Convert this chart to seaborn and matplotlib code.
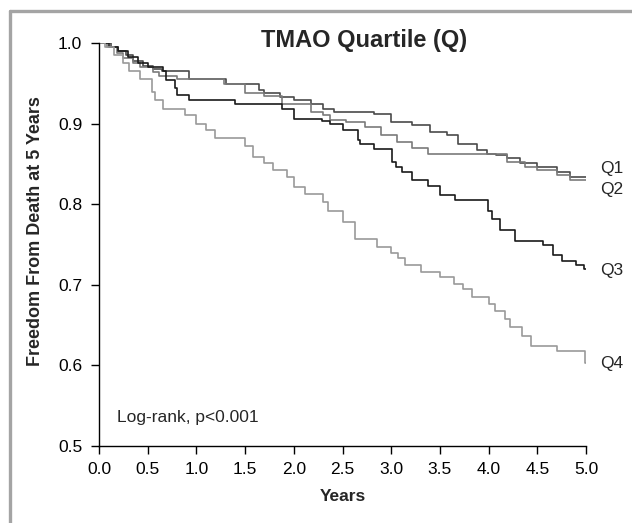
import pandas as pd
import seaborn as sns
import matplotlib.pyplot as plt
from matplotlib.lines import Line2D

# Kaplan-Meier steps (years, survival after the step)
q1_t = [0.0, 0.12, 0.2, 0.28, 0.35, 0.45, 0.55, 0.65, 0.92, 1.30, 1.64, 1.69, 1.86, 2.00, 2.18, 2.30,
        2.41, 2.82, 3.00, 3.21, 3.40, 3.57, 3.69, 3.88, 3.98, 4.08, 4.19, 4.32, 4.50, 4.70, 4.84, 5.0]
q1_s = [1.0, 0.996, 0.99, 0.985, 0.978, 0.972, 0.968, 0.965, 0.956, 0.949, 0.942, 0.938, 0.933, 0.929, 0.925, 0.919,
        0.915, 0.912, 0.902, 0.898, 0.890, 0.886, 0.875, 0.867, 0.863, 0.861, 0.857, 0.851, 0.846, 0.840, 0.834, 0.834]

q2_t = [0.0, 0.08, 0.18, 0.25, 0.35, 0.42, 0.55, 0.62, 0.80, 1.28, 1.50, 1.69, 1.88, 2.18, 2.30, 2.37,
        2.54, 2.73, 2.90, 3.06, 3.21, 3.38, 4.19, 4.37, 4.50, 4.70, 4.84, 5.0]
q2_s = [1.0, 0.995, 0.988, 0.982, 0.975, 0.970, 0.964, 0.960, 0.956, 0.949, 0.938, 0.934, 0.925, 0.915, 0.911, 0.905,
        0.902, 0.896, 0.886, 0.878, 0.870, 0.863, 0.853, 0.846, 0.842, 0.836, 0.830, 0.830]

q3_t = [0.0, 0.1, 0.2, 0.3, 0.4, 0.5, 0.66, 0.69, 0.78, 0.80, 0.92, 1.40, 1.88, 2.00, 2.29, 2.37, 2.51,
        2.66, 2.68, 2.82, 3.01, 3.05, 3.11, 3.21, 3.38, 3.50, 3.66, 3.99, 4.03, 4.12, 4.27, 4.56, 4.66,
        4.75, 4.90, 4.98, 5.0]
q3_s = [1.0, 0.995, 0.99, 0.983, 0.976, 0.970, 0.965, 0.954, 0.944, 0.936, 0.930, 0.925, 0.919, 0.906, 0.904, 0.900, 0.892,
        0.880, 0.875, 0.869, 0.853, 0.846, 0.840, 0.830, 0.823, 0.811, 0.805, 0.792, 0.782, 0.768, 0.755, 0.749, 0.737,
        0.730, 0.724, 0.720, 0.720]

q4_t = [0.0, 0.06, 0.15, 0.25, 0.31, 0.42, 0.54, 0.57, 0.66, 0.88, 1.00, 1.10, 1.19, 1.50, 1.58, 1.69,
        1.79, 1.93, 2.00, 2.11, 2.30, 2.35, 2.51, 2.63, 2.85, 3.00, 3.07, 3.14, 3.31, 3.50, 3.64, 3.74,
        3.83, 4.00, 4.07, 4.17, 4.22, 4.34, 4.44, 4.70, 4.99, 5.0]
q4_s = [1.0, 0.995, 0.985, 0.975, 0.965, 0.956, 0.940, 0.930, 0.919, 0.911, 0.900, 0.892, 0.882, 0.872, 0.859, 0.851,
        0.842, 0.834, 0.822, 0.813, 0.803, 0.792, 0.778, 0.757, 0.747, 0.740, 0.733, 0.724, 0.716, 0.710, 0.701, 0.695,
        0.685, 0.676, 0.668, 0.657, 0.647, 0.637, 0.624, 0.618, 0.603, 0.603]

groups = ['Q1', 'Q2', 'Q3', 'Q4']
colors = {'Q1': '#4a4a4a', 'Q2': '#7a7a7a', 'Q3': '#1a1a1a', 'Q4': '#9a9a9a'}

df = pd.concat([
    pd.DataFrame({'years': t, 'surv': s, 'group': g})
    for g, t, s in zip(groups, [q1_t, q2_t, q3_t, q4_t], [q1_s, q2_s, q3_s, q4_s])
])

sns.set_style('ticks')
plt.rcParams['font.family'] = ['Liberation Sans', 'DejaVu Sans']

fig = plt.figure(figsize=(6.32, 5.23), dpi=100)
ax = fig.add_axes([99 / 632, 1 - 445.8 / 523, 487 / 632, (445.8 - 43.3) / 523])

sns.lineplot(data=df, x='years', y='surv', hue='group', palette=colors, estimator=None,
             drawstyle='steps-post', linewidth=1.2, legend=False, ax=ax)

ax.set_xlim(0, 5.0)
ax.set_ylim(0.5, 1.0)
ax.set_xticks([0, 0.5, 1, 1.5, 2, 2.5, 3, 3.5, 4, 4.5, 5])
ax.set_xticklabels(['%.1f' % v for v in ax.get_xticks()])
ax.set_yticks([0.5, 0.6, 0.7, 0.8, 0.9, 1.0])
ax.set_yticklabels(['%.1f' % v for v in ax.get_yticks()])
ax.tick_params(labelsize=12.5, length=6, width=1, colors='black', pad=6)
ax.set_xlabel('Years', fontsize=12.5, fontweight='bold', labelpad=8)
ax.set_ylabel('')
for side in ['top', 'right']:
    ax.spines[side].set_visible(False)
for side in ['left', 'bottom']:
    ax.spines[side].set_color('black')
    ax.spines[side].set_linewidth(1)

fig.text(36 / 632, 1 - 231 / 523, 'Freedom From Death at 5 Years', rotation=90,
         ha='center', va='center', fontsize=13, fontweight='bold')
fig.text(364 / 632, 1 - 41 / 523, 'TMAO Quartile (Q)', ha='center', va='center',
         fontsize=17, fontweight='bold')

ax.text(0.18, 0.535, 'Log-rank, p<0.001', fontsize=12.5, va='center')

label_y = {'Q1': 0.845, 'Q2': 0.818, 'Q3': 0.718, 'Q4': 0.602}
for g in groups:
    ax.text(5.14, label_y[g], g, fontsize=12.5, va='center', clip_on=False)

# grey frame visible on the top and left edges
fig.add_artist(Line2D([10 / 632, 10 / 632], [0, 1 - 10.5 / 523], transform=fig.transFigure,
                      color='#a4a4a4', linewidth=2.4))
fig.add_artist(Line2D([10 / 632, 1], [1 - 10.5 / 523, 1 - 10.5 / 523], transform=fig.transFigure,
                      color='#a4a4a4', linewidth=2.4))

fig.savefig('out.png', dpi=100)
